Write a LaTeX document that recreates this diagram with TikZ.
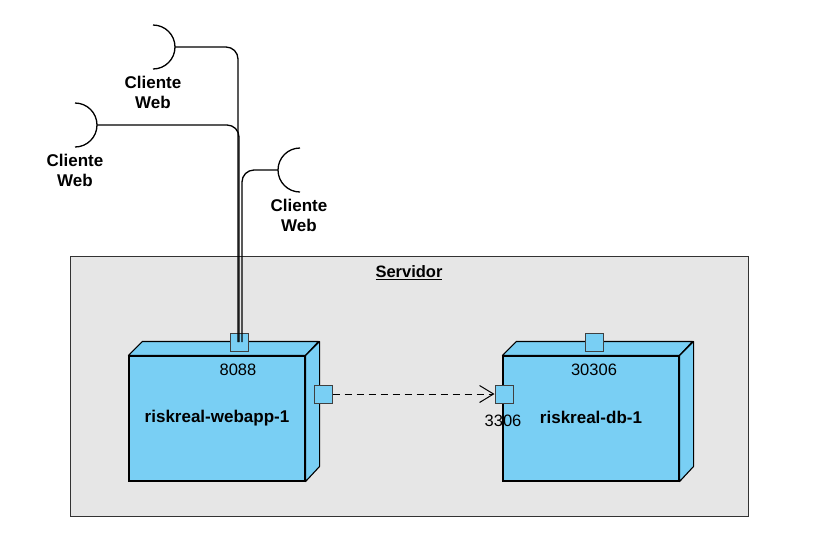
\documentclass[tikz,border=0pt]{standalone}
\usepackage{fontspec}
\setmainfont{Liberation Sans}
\usetikzlibrary{arrows.meta}
\definecolor{srvgray}{HTML}{E6E6E6}
\definecolor{nodeblue}{HTML}{79CFF4}
\begin{document}
\begin{tikzpicture}[x=1pt, y=-1pt,
    nodebox/.style={draw, line width=1.1pt, fill=nodeblue, minimum width=176, minimum height=125, inner sep=0pt, font=\fontsize{17}{19}\selectfont\bfseries},
    port/.style={draw=black!75, line width=1pt, fill=nodeblue, minimum size=18, inner sep=0pt},
    portlbl/.style={font=\fontsize{16.5}{19}\selectfont},
    clientlbl/.style={align=center, font=\fontsize{17}{20}\selectfont\bfseries},
    wire/.style={line width=1.3pt, rounded corners=12}]
    \useasboundingbox (0,0) rectangle (825,558);

    % server
    \draw[fill=srvgray, draw=black!80, line width=0.9pt] (70,256) rectangle (748,516);
    \node[font=\fontsize{16.5}{19}\selectfont\bfseries] (srv) at (409,272.5) {\underline{Servidor}};

    % webapp
    \node[nodebox] (web) at (217,418.5) {\raisebox{3pt}{riskreal-webapp-1}};
    \draw[fill=nodeblue, line width=1.1pt, line join=round] (web.north west) -- ++(14,-14) -- ++(176,0) -- (web.north east) -- cycle;
    \draw[fill=nodeblue, line width=1.1pt, line join=round] (web.north east) -- ++(14,-14) -- ++(0,125) -- (web.south east) -- cycle;
    \node[port] (p8088) at (239,342) {};
    \node[port] (pout) at (323,394) {};
    \node[portlbl] (l8088) at (238,370) {8088};

    % db
    \node[nodebox] (db) at (591,418.5) {\raisebox{3pt}{riskreal-db-1}};
    \draw[fill=nodeblue, line width=1.1pt, line join=round] (db.north west) -- ++(14,-14) -- ++(176,0) -- (db.north east) -- cycle;
    \draw[fill=nodeblue, line width=1.1pt, line join=round] (db.north east) -- ++(14,-14) -- ++(0,125) -- (db.south east) -- cycle;
    \node[port] (p30306) at (594,342) {};
    \node[port] (p3306) at (504,394) {};
    \node[portlbl] (l30306) at (594,370) {30306};
    \node[portlbl] (l3306) at (503,421) {3306};

    \draw[line width=1pt, dash pattern=on 7pt off 5pt, -{Straight Barb[length=14pt, width=17pt, line width=1pt]}] (pout.east) -- (p3306.west);

    % clients
    \draw[line width=1.3pt] (153,25) arc[start angle=90, end angle=-90, radius=22pt];
    \coordinate (c1) at (175,47);
    \node[clientlbl] (cl1) at (153,92) {Cliente\\Web};
    \draw[line width=1.3pt] (75,103) arc[start angle=90, end angle=-90, radius=22pt];
    \coordinate (c2) at (97,125);
    \node[clientlbl] (cl2) at (75,170) {Cliente\\Web};
    \draw[line width=1.3pt] (300,148) arc[start angle=90, end angle=270, radius=22pt];
    \coordinate (c3) at (278,170);
    \node[clientlbl] (cl3) at (299,215) {Cliente\\Web};

    \draw[wire] (c1) -| ([xshift=-1]p8088.center);
    \draw[wire] (c2) -| ([xshift=0]p8088.center);
    \draw[wire] (c3) -| ([xshift=3]p8088.center);
\end{tikzpicture}
\end{document}
